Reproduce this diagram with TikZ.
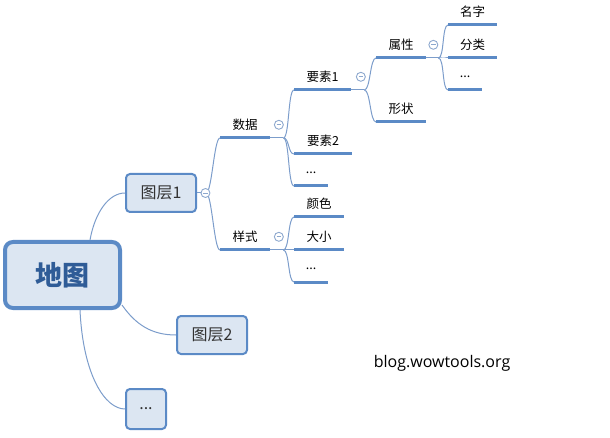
\documentclass[tikz,border=0pt]{standalone}
\usepackage{fontspec}
\usepackage{tikz}
\usetikzlibrary{positioning, calc}
\newfontfamily\cjk{Noto Sans CJK SC}
\newfontfamily\blogfont{Open Sans}
\definecolor{mapblue}{HTML}{5B8AC6}
\definecolor{boxfill}{HTML}{DCE6F2}
\definecolor{linkblue}{HTML}{7C9DCB}
\definecolor{foldgray}{HTML}{8DA8CE}
\definecolor{roottext}{HTML}{2F5C97}
\definecolor{darkgray}{HTML}{333333}

\begin{document}
\begin{tikzpicture}[
    x=1pt, y=-1pt,
    rootbox/.style={rectangle, draw=mapblue, fill=boxfill, line width=4pt, rounded corners=8pt, minimum width=115pt, minimum height=66pt, font=\cjk\fontsize{27}{31}\selectfont\bfseries, text=roottext},
    layerbox/.style={rectangle, draw=mapblue, fill=boxfill, line width=2pt, rounded corners=4pt, minimum width=#1, minimum height=38pt, font=\cjk\fontsize{16}{19}\selectfont, text=darkgray},
    topic/.style={anchor=south west, minimum width=#1, minimum height=26pt, inner sep=0pt, font=\cjk\fontsize{12.5}{15}\selectfont, text=black},
    uline/.style={mapblue, line width=3pt},
    link/.style={linkblue, line width=1pt},
    fold/.style={circle, draw=foldgray, fill=white, line width=0.9pt, minimum size=9pt, inner sep=0pt,
      path picture={\draw[foldgray, line width=0.9pt] ([xshift=-2.2pt]path picture bounding box.center) -- ([xshift=2.2pt]path picture bounding box.center);}},
  ]
  \useasboundingbox (0,0) rectangle (610,438);

  % Nodes
  \node[rootbox] (root) at (62.5,275) {地图};
  \node[layerbox=70pt] (layer1) at (161,193) {图层1};
  \node[layerbox=70pt] (layer2) at (212,335) {图层2};
  \node[layerbox=40pt, minimum height=40pt] (layermore) at (146,409) {...};

  \node[topic=50pt] (shuju) at (220,138) {数据};
  \node[topic=50pt] (yangshi) at (220,250) {样式};
  \node[topic=57pt] (ys1) at (294,90) {要素1};
  \node[topic=58pt] (ys2) at (294,154) {要素2};
  \node[topic=34pt] (sjmore) at (294,186) {...};
  \node[topic=50pt] (yanse) at (294,217) {颜色};
  \node[topic=50pt] (daxiao) at (294,250) {大小};
  \node[topic=34pt] (ysmore) at (294,282) {...};
  \node[topic=50pt] (shuxing) at (376,58) {属性};
  \node[topic=50pt] (xingzhuang) at (376,122) {形状};
  \node[topic=49pt] (mingzi) at (448,25) {名字};
  \node[topic=49pt] (fenlei) at (448,58) {分类};
  \node[topic=34pt] (sxmore) at (448,90) {...};

  \node[font=\blogfont\fontsize{16}{19}\selectfont] (blog) at (442,363) {blog.wowtools.org};

  % Joints
  \coordinate (j1) at ([xshift=13pt]layer1.east);
  \coordinate (j2) at ([xshift=13pt]shuju.south east);
  \coordinate (j3) at ([xshift=13pt]yangshi.south east);
  \coordinate (j4) at ([xshift=13pt]ys1.south east);
  \coordinate (j5) at ([xshift=12pt]shuxing.south east);

  % Links
  \draw[link] ([xshift=27.5pt]root.north) .. controls +(5,-28) and +(-16,0) .. (layer1.west);
  \draw[link] ([yshift=5pt]root.south east) .. controls +(14,20) and +(-24,0) .. (layer2.west);
  \draw[link] ([xshift=17.5pt]root.south) .. controls +(3,65) and +(-20,0) .. (layermore.west);

  \draw[link] (layer1.east) -- (j1);
  \draw[link] (shuju.south east) -- (j2);
  \draw[link] (yangshi.south east) -- (j3);
  \draw[link] (ys1.south east) -- (j4);
  \draw[link] (shuxing.south east) -- (j5);
  \foreach \c in {shuju, yangshi}
    \draw[link] ([xshift=-4pt]j1) .. controls +(6,0) and +(-6,0) .. (\c.south west);
  \foreach \c in {ys1, ys2, sjmore}
    \draw[link] (j2) .. controls +(6,0) and +(-6,0) .. (\c.south west);
  \foreach \c in {yanse, daxiao, ysmore}
    \draw[link] (j3) .. controls +(6,0) and +(-6,0) .. (\c.south west);
  \foreach \c in {shuxing, xingzhuang}
    \draw[link] (j4) .. controls +(6,0) and +(-6,0) .. (\c.south west);
  \foreach \c in {mingzi, fenlei, sxmore}
    \draw[link] (j5) .. controls +(6,0) and +(-6,0) .. (\c.south west);

  % Underlines
  \foreach \n in {shuju, yangshi, ys1, ys2, sjmore, yanse, daxiao, ysmore, shuxing, xingzhuang, mingzi, fenlei, sxmore}
    \draw[uline] (\n.south west) -- (\n.south east);

  % Fold markers
  \node[fold, right=3.5pt of layer1] (f1) {};
  \node[fold, right=3.5pt of shuju] (f2) {};
  \node[fold, right=3.5pt of yangshi] (f3) {};
  \node[fold, right=4.5pt of ys1] (f4) {};
  \node[fold, right=2pt of shuxing] (f5) {};
\end{tikzpicture}
\end{document}
